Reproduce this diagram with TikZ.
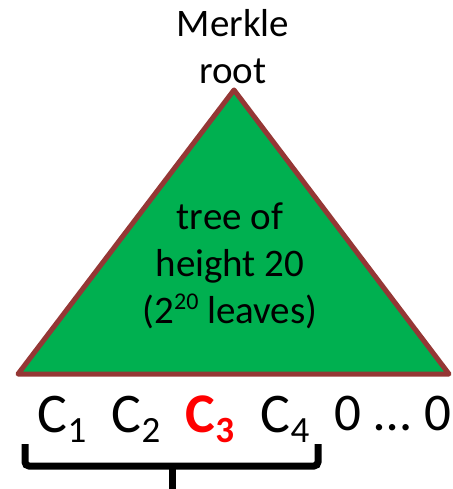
\documentclass[tikz,border=0pt]{standalone}
\usepackage{fontspec}
\setmainfont{Carlito}
\usetikzlibrary{positioning}
\definecolor{treegreen}{HTML}{00B050}
\definecolor{treeedge}{HTML}{953735}
\definecolor{leafred}{HTML}{FF0000}
\newcommand{\lsub}[1]{\raisebox{-10pt}{\fontsize{37}{37}\selectfont #1}}
\newcommand{\lsup}[1]{\raisebox{14pt}{\fontsize{24}{24}\selectfont #1}}

\begin{document}
\begin{tikzpicture}[x=1pt,y=-1pt]
\tikzset{lbl/.style={inner sep=0pt,align=center,font=\fontsize{39}{47}\selectfont},
  leaf/.style={inner sep=0pt,anchor=base,font=\fontsize{56}{66}\selectfont},
  zero/.style={inner sep=0pt,anchor=base,font=\fontsize{53}{64}\selectfont}}
\useasboundingbox (0,0) rectangle (452,489);

% the tree
\coordinate (top) at (234,90);
\coordinate (left) at (18,374);
\coordinate (right) at (449,374);
\draw[fill=treegreen,draw=treeedge,line width=5pt,line join=round] (top) -- (left) -- (right) -- cycle;

\node[lbl] (root) at (233,47) {Merkle\\root};
\node[lbl] (tree) at (230,266) {tree of\\height 20\\(2\lsup{20} leaves)};

% leaves
\node[leaf] (c1) at (62,432) {C\lsub{1}};
\node[leaf] (c2) at (136,432) {C\lsub{2}};
\node[leaf,text=leafred,font=\fontsize{56}{66}\selectfont\bfseries] (c3) at (210,432) {C\lsub{3}};
\node[leaf] (c4) at (285,432) {C\lsub{4}};
\node[zero] (z1) at (348,430) {0};
\node[zero] (dots) at (393,430) {\dots};
\node[zero] (z2) at (438,430) {0};

% brace under C1..C4
\coordinate (bl) at (25,444);
\coordinate (br) at (318,444);
\coordinate (bm) at (172,466);
\coordinate (tip) at (172,489);
\draw[line width=7pt,rounded corners=4pt] (bl) -- (bl|-bm) -- (bm) -- (br|-bm) -- (br);
\draw[line width=7pt] (bm) -- (tip);
\end{tikzpicture}
\end{document}
